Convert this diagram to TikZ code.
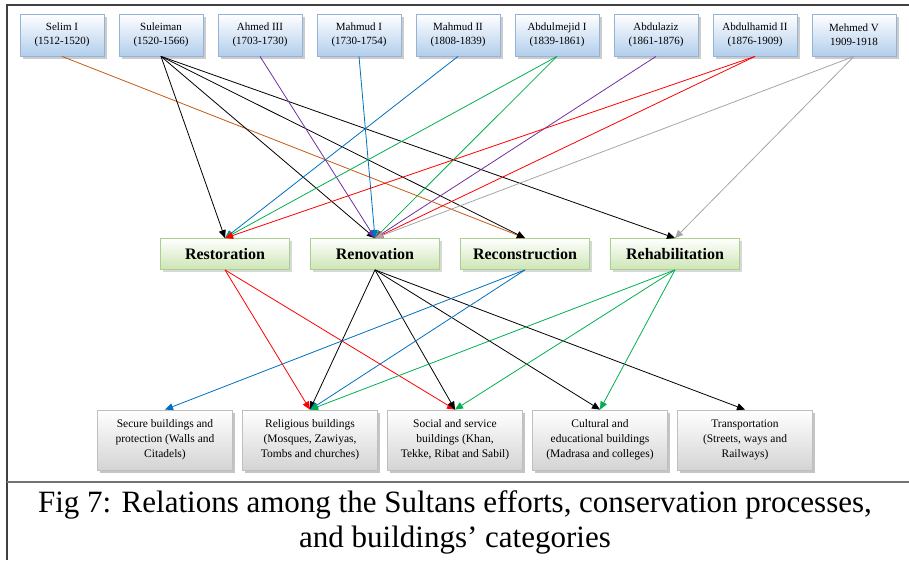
\documentclass[tikz,border=0pt]{standalone}
\usepackage{fontspec}
\setmainfont{Liberation Serif}
\usetikzlibrary{arrows.meta,shadows}

\definecolor{sultanline}{RGB}{149,179,215}
\definecolor{sultanfill}{RGB}{178,206,236}
\definecolor{procline}{RGB}{169,209,142}
\definecolor{procfill}{RGB}{205,229,180}
\definecolor{catline}{RGB}{191,191,191}
\definecolor{catfill}{RGB}{212,212,212}
\definecolor{orangeln}{RGB}{197,90,17}
\definecolor{purpleln}{RGB}{112,48,160}
\definecolor{blueln}{RGB}{0,112,192}
\definecolor{greenln}{RGB}{0,176,80}
\definecolor{redln}{RGB}{255,0,0}
\definecolor{grayln}{RGB}{166,166,166}

\begin{document}
\begin{tikzpicture}[x=1pt, y=-1pt,
        sultan/.style = {rectangle, draw=sultanline, line width=0.8pt, top color=white, bottom color=sultanfill,
                         drop shadow={shadow xshift=2.5pt, shadow yshift=-2.5pt, fill=black!40},
                         minimum width=84pt, minimum height=42pt, inner xsep=6pt, align=center,
                         font=\fontsize{11}{14}\selectfont},
        proc/.style = {rectangle, draw=procline, line width=0.8pt, top color=white, bottom color=procfill,
                       drop shadow={shadow xshift=2.5pt, shadow yshift=-2.5pt, fill=black!30},
                       minimum width=129pt, minimum height=31pt, font=\fontsize{16}{20}\selectfont\bfseries},
        cat/.style = {rectangle, draw=catline, line width=0.8pt, top color=white, bottom color=catfill,
                      drop shadow={shadow xshift=2.5pt, shadow yshift=-2.5pt, fill=black!45},
                      minimum width=135pt, minimum height=60pt, align=center,
                      font=\fontsize{11.5}{15}\selectfont},
        link/.style = {-{Triangle[length=8pt,width=7pt]}, line width=0.8pt}]
        \useasboundingbox (0,0) rectangle (909,560);

        % frame
        \draw[black!75, line width=1.2pt] (909,5) -- (7,5) -- (7,560);
        \draw[black!55, line width=1.2pt] (7,482) -- (909,482);

        % sultans
        \node[sultan] (selim) at (62,35) {Selim I\\(1512-1520)};
        \node[sultan] (suleiman) [right of=selim, node distance=99pt] {Suleiman\\(1520-1566)};
        \node[sultan] (ahmed) [right of=suleiman, node distance=99pt] {Ahmed III\\(1703-1730)};
        \node[sultan] (mahmudI) [right of=ahmed, node distance=99pt] {Mahmud I\\(1730-1754)};
        \node[sultan] (mahmudII) [right of=mahmudI, node distance=99pt] {Mahmud II\\(1808-1839)};
        \node[sultan] (abdulmejid) [right of=mahmudII, node distance=99pt] {Abdulmejid I\\(1839-1861)};
        \node[sultan] (abdulaziz) [right of=abdulmejid, node distance=99pt] {Abdulaziz\\(1861-1876)};
        \node[sultan] (abdulhamid) [right of=abdulaziz, node distance=99pt] {Abdulhamid II\\(1876-1909)};
        \node[sultan] (mehmed) [right of=abdulhamid, node distance=99pt] {Mehmed V\\1909-1918};

        % processes
        \node[proc] (restoration) at (225,254) {Restoration};
        \node[proc] (renovation) [right of=restoration, node distance=150pt] {Renovation};
        \node[proc] (reconstruction) [right of=renovation, node distance=150pt] {Reconstruction};
        \node[proc] (rehabilitation) [right of=reconstruction, node distance=150pt] {Rehabilitation};

        % building categories
        \node[cat] (secure) at (165,440) {Secure buildings and\\protection (Walls and\\Citadels)};
        \node[cat] (religious) [right of=secure, node distance=145pt] {Religious buildings\\(Mosques, Zawiyas,\\Tombs and churches)};
        \node[cat] (social) [right of=religious, node distance=145pt] {Social and service\\buildings (Khan,\\Tekke, Ribat and Sabil)};
        \node[cat] (cultural) [right of=social, node distance=145pt] {Cultural and\\educational buildings\\(Madrasa and colleges)};
        \node[cat] (transport) [right of=cultural, node distance=145pt] {Transportation\\(Streets, ways and\\Railways)};

        % sultans to processes
        \draw[link, orangeln] (selim.south) -- (reconstruction.north);
        \foreach \t in {restoration,renovation,reconstruction,rehabilitation}{
            \draw[link] (suleiman.south) -- (\t.north);
        }
        \draw[link, purpleln] (ahmed.south) -- (renovation.north);
        \draw[link, blueln] (mahmudI.south) -- (renovation.north);
        \draw[link, blueln] (mahmudII.south) -- (restoration.north);
        \foreach \t in {restoration,renovation}{
            \draw[link, greenln] (abdulmejid.south) -- (\t.north);
        }
        \draw[link, purpleln] (abdulaziz.south) -- (renovation.north);
        \foreach \t in {restoration,renovation}{
            \draw[link, redln] (abdulhamid.south) -- (\t.north);
        }
        \foreach \t in {renovation,rehabilitation}{
            \draw[link, grayln] (mehmed.south) -- (\t.north);
        }

        % processes to categories
        \foreach \t in {religious,social}{
            \draw[link, redln] (restoration.south) -- (\t.north);
        }
        \foreach \t in {religious,social,cultural,transport}{
            \draw[link] (renovation.south) -- (\t.north);
        }
        \foreach \t in {secure,religious}{
            \draw[link, blueln] (reconstruction.south) -- (\t.north);
        }
        \foreach \t in {religious,social,cultural}{
            \draw[link, greenln] (rehabilitation.south) -- (\t.north);
        }

        % caption
        \node[align=center, font=\fontsize{31}{35}\selectfont] (caption) at (455,522)
            {Fig 7: Relations among the Sultans efforts, conservation processes,\\ and buildings' categories};
\end{tikzpicture}
\end{document}
